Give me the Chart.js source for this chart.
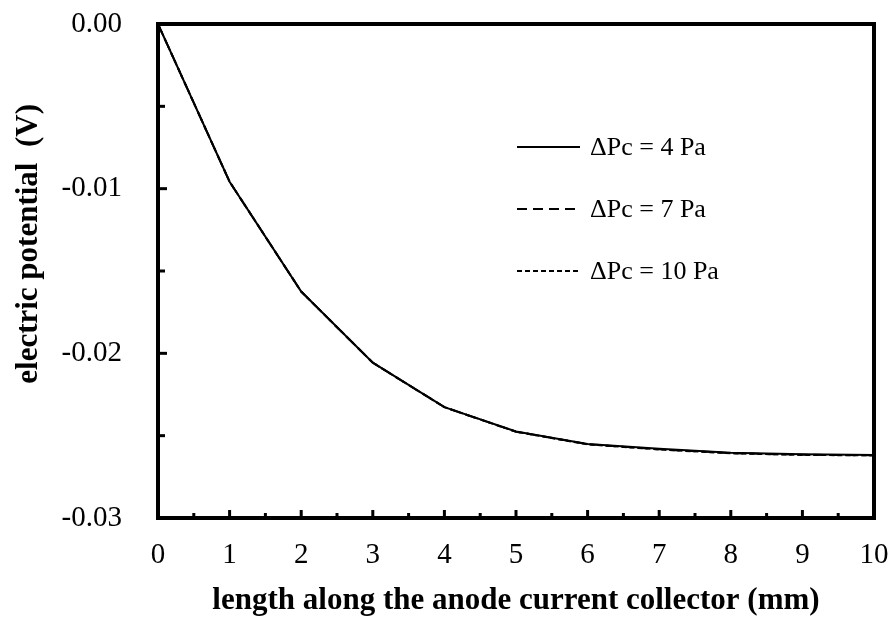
<!DOCTYPE html>
<html>
<head>
<meta charset="utf-8">
<script src="https://cdn.jsdelivr.net/npm/chart.js@4/dist/chart.umd.min.js"></script>
<style>
  html, body { margin: 0; padding: 0; background: #fff; }
  #wrap { width: 893px; height: 618px; }
</style>
</head>
<body>
<div id="wrap"><canvas id="potentialChart"></canvas></div>
<script>
// data
const lengths = [0, 1, 2, 3, 4, 5, 6, 7, 8, 9, 10];
const potential4Pa = [0, -0.00958, -0.01625, -0.02057, -0.02327, -0.02475, -0.0255, -0.0258, -0.02603, -0.02613, -0.02617];
const potential7Pa = [0, -0.00958, -0.01625, -0.02057, -0.02327, -0.02476, -0.02552, -0.02583, -0.02606, -0.02616, -0.02619];
const potential10Pa = [0, -0.00958, -0.01625, -0.02057, -0.02327, -0.02476, -0.02553, -0.02584, -0.02607, -0.02617, -0.0262];
const seriesLabels = ['\u0394Pc = 4 Pa', '\u0394Pc = 7 Pa', '\u0394Pc = 10 Pa'];

const serif = "'Liberation Serif', 'Times New Roman', serif";

// frame, inward ticks and the in-plot legend
const framePlugin = {
    id: 'frame',
    afterDraw: function(chart) {
        const ctx = chart.ctx;
        const area = chart.chartArea;
        const xs = chart.scales.x;
        const ys = chart.scales.y;
        ctx.save();
        ctx.strokeStyle = '#000';
        ctx.lineWidth = 4;
        ctx.strokeRect(area.left, area.top, area.right - area.left, area.bottom - area.top);

        // x ticks (major at integers, minor at halves)
        ctx.lineWidth = 3;
        for (let v = 0.5; v < 10; v += 0.5) {
            const px = xs.getPixelForValue(v);
            const len = (v % 1 === 0) ? 8 : 5;
            ctx.beginPath();
            ctx.moveTo(px, area.bottom);
            ctx.lineTo(px, area.bottom - len);
            ctx.stroke();
        }
        // y ticks every 0.005
        for (let i = 1; i < 6; i++) {
            const py = ys.getPixelForValue(-0.005 * i);
            const len = (i % 2 === 0) ? 9 : 7;
            ctx.beginPath();
            ctx.moveTo(area.left, py);
            ctx.lineTo(area.left + len, py);
            ctx.stroke();
        }

        // legend
        const legendX = 517, legendY = 147, rowGap = 62;
        ctx.font = '26px ' + serif;
        ctx.textBaseline = 'middle';
        ctx.fillStyle = '#000';
        chart.data.datasets.forEach(function(ds, i) {
            const y = legendY + i * rowGap;
            ctx.lineWidth = 2;
            ctx.setLineDash(ds.borderDash || []);
            ctx.beginPath();
            ctx.moveTo(legendX, y);
            ctx.lineTo(legendX + 63, y);
            ctx.stroke();
            ctx.setLineDash([]);
            ctx.fillText(ds.label, legendX + 73, y + 1);
        });
        ctx.restore();
    }
};

new Chart(document.getElementById('potentialChart'), {
    type: 'line',
    data: {
        labels: lengths,
        datasets: [
            {
                label: seriesLabels[0],
                data: potential4Pa,
                borderColor: '#000',
                borderWidth: 2,
                pointRadius: 0,
                tension: 0
            },
            {
                label: seriesLabels[1],
                data: potential7Pa,
                borderColor: '#000',
                borderWidth: 2,
                borderDash: [10, 6],
                pointRadius: 0,
                tension: 0
            },
            {
                label: seriesLabels[2],
                data: potential10Pa,
                borderColor: '#000',
                borderWidth: 2,
                borderDash: [5, 3],
                pointRadius: 0,
                tension: 0
            }
        ]
    },
    options: {
        responsive: true,
        maintainAspectRatio: false,
        animation: false,
        layout: { padding: { top: 24, right: 19, left: 0, bottom: 0 } },
        plugins: {
            legend: { display: false },
            tooltip: { enabled: false }
        },
        scales: {
            x: {
                type: 'linear',
                min: 0,
                max: 10,
                afterFit: function(scale) {
                    scale.height = 100;
                    scale.paddingLeft = 0;
                    scale.paddingRight = 0;
                },
                grid: { display: false, drawTicks: false },
                border: { display: false },
                ticks: {
                    stepSize: 1,
                    padding: 20,
                    color: '#000',
                    font: { family: serif, size: 29 }
                },
                title: {
                    display: true,
                    text: 'length along the anode current collector (mm)',
                    color: '#000',
                    font: { family: serif, size: 31, weight: 'bold', lineHeight: 1.1 },
                    padding: { top: 0, bottom: 0 }
                }
            },
            y: {
                min: -0.03,
                max: 0,
                afterFit: function(scale) {
                    scale.width = 158;
                    scale.paddingTop = 0;
                    scale.paddingBottom = 0;
                },
                grid: { display: false, drawTicks: false },
                border: { display: false },
                ticks: {
                    stepSize: 0.01,
                    padding: 36,
                    color: '#000',
                    font: { family: serif, size: 29 },
                    callback: function(value) { return Number(value).toFixed(2); }
                },
                title: {
                    display: true,
                    text: '       electric potential  (V)',
                    color: '#000',
                    font: { family: serif, size: 31, weight: 'bold' },
                    padding: { top: 10, bottom: 0 }
                }
            }
        }
    },
    plugins: [framePlugin]
});
</script>
</body>
</html>
